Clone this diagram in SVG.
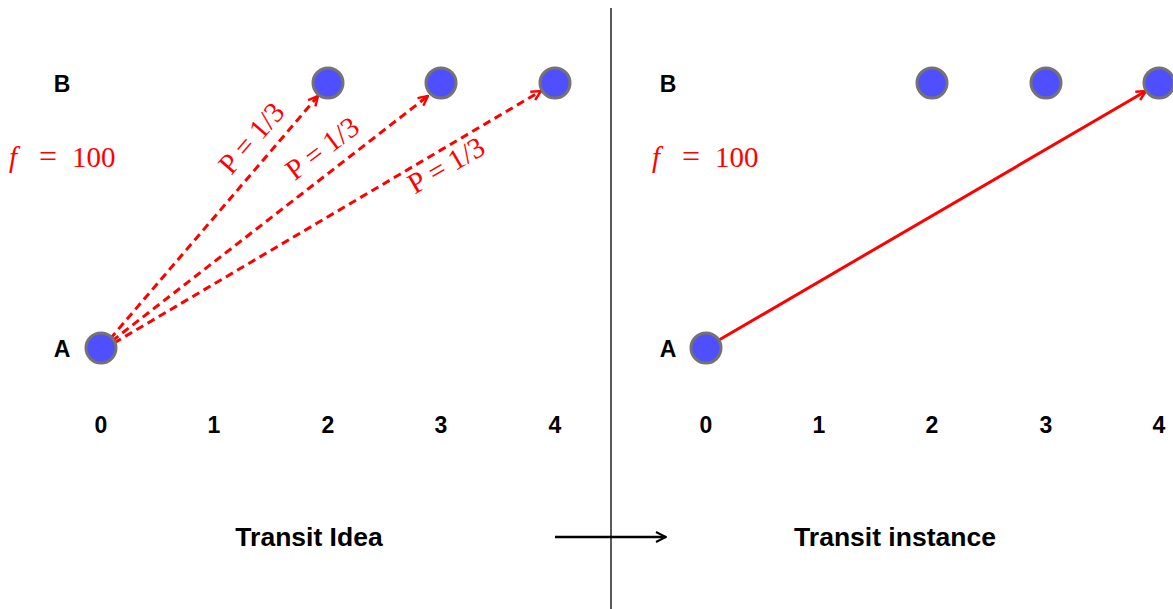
<svg xmlns="http://www.w3.org/2000/svg" width="1173" height="609" viewBox="0 0 1173 609">
<style>
.node{fill:#4f4fff;stroke:#737373;stroke-width:3}
.lbl{font-family:"Liberation Sans",Arial,sans-serif;font-weight:bold;font-size:23px;fill:#000;text-anchor:middle;dominant-baseline:central}
.title{font-family:"Liberation Sans",Arial,sans-serif;font-weight:bold;font-size:26.5px;fill:#000;text-anchor:middle;dominant-baseline:central}
.math{font-family:"Liberation Serif","DejaVu Serif",serif;font-size:29px;fill:#ff0000}
.p{font-family:"Liberation Serif","DejaVu Serif",serif;font-size:29px;fill:#ff0000;text-anchor:middle;dominant-baseline:central}
.dash{stroke:#ff0000;stroke-width:3;stroke-dasharray:8,5;fill:none}
.solid{stroke:#ff0000;stroke-width:3;fill:none}
</style>
<defs>
<marker id="ar" viewBox="0 0 10 10" refX="9" refY="5" markerWidth="4" markerHeight="4" orient="auto" markerUnits="strokeWidth">
<path d="M1,1 L9,5 L1,9" fill="none" stroke="#ff0000" stroke-width="2"/>
</marker>
<marker id="ak" viewBox="0 0 10 10" refX="9" refY="5" markerWidth="5" markerHeight="5" orient="auto" markerUnits="strokeWidth">
<path d="M1,1 L9,5 L1,9" fill="none" stroke="#000" stroke-width="1.6"/>
</marker>
</defs>
<rect width="1173" height="609" fill="#fff"/>
<g id="divider"><line x1="611" y1="8" x2="611" y2="609" stroke="#000" stroke-width="1.3"/></g>
<g id="connectors">
<line class="dash" x1="110" y1="339" x2="318" y2="96" marker-end="url(#ar)"/>
<line class="dash" x1="112" y1="341" x2="428" y2="96" marker-end="url(#ar)"/>
<line class="dash" x1="114" y1="343" x2="541" y2="91" marker-end="url(#ar)"/>
<line class="solid" x1="719" y1="340" x2="1146" y2="91" marker-end="url(#ar)"/>
<line x1="555" y1="537" x2="666" y2="537" stroke="#000" stroke-width="2.5" marker-end="url(#ak)"/>
</g>
<g id="left-labels">
<text class="lbl" x="62" y="84">B</text>
<text class="lbl" x="62" y="349">A</text>
<text class="math" x="9" y="167"><tspan font-style="italic">f</tspan><tspan x="39" font-size="32">=</tspan><tspan x="72">100</tspan></text>
<text class="lbl" x="101" y="425">0</text>
<text class="lbl" x="214" y="425">1</text>
<text class="lbl" x="328" y="425">2</text>
<text class="lbl" x="441" y="425">3</text>
<text class="lbl" x="555" y="425">4</text>
<text class="title" x="309" y="537">Transit Idea</text>
<text class="p" transform="translate(251,138) rotate(-49)">P<tspan dx="7">=</tspan><tspan dx="7">1/3</tspan></text>
<text class="p" transform="translate(322,148) rotate(-37)">P<tspan dx="7">=</tspan><tspan dx="7">1/3</tspan></text>
<text class="p" transform="translate(446,165) rotate(-30)">P<tspan dx="7">=</tspan><tspan dx="7">1/3</tspan></text>
</g>
<g id="right-labels">
<text class="lbl" x="668" y="84">B</text>
<text class="lbl" x="668" y="349">A</text>
<text class="math" x="652" y="167"><tspan font-style="italic">f</tspan><tspan x="682" font-size="32">=</tspan><tspan x="715">100</tspan></text>
<text class="lbl" x="706" y="425">0</text>
<text class="lbl" x="819" y="425">1</text>
<text class="lbl" x="932" y="425">2</text>
<text class="lbl" x="1046" y="425">3</text>
<text class="lbl" x="1159" y="425">4</text>
<text class="title" x="895" y="537">Transit instance</text>
</g>
<g id="nodeL-A"><circle class="node" cx="101" cy="348" r="15"/></g>
<g id="nodeL-B2"><circle class="node" cx="328" cy="83" r="15"/></g>
<g id="nodeL-B3"><circle class="node" cx="441" cy="83" r="15"/></g>
<g id="nodeL-B4"><circle class="node" cx="555" cy="83" r="15"/></g>
<g id="nodeR-A"><circle class="node" cx="706" cy="348" r="15"/></g>
<g id="nodeR-B2"><circle class="node" cx="932" cy="83" r="15"/></g>
<g id="nodeR-B3"><circle class="node" cx="1046" cy="83" r="15"/></g>
<g id="nodeR-B4"><circle class="node" cx="1159" cy="83" r="15"/></g>
</svg>
